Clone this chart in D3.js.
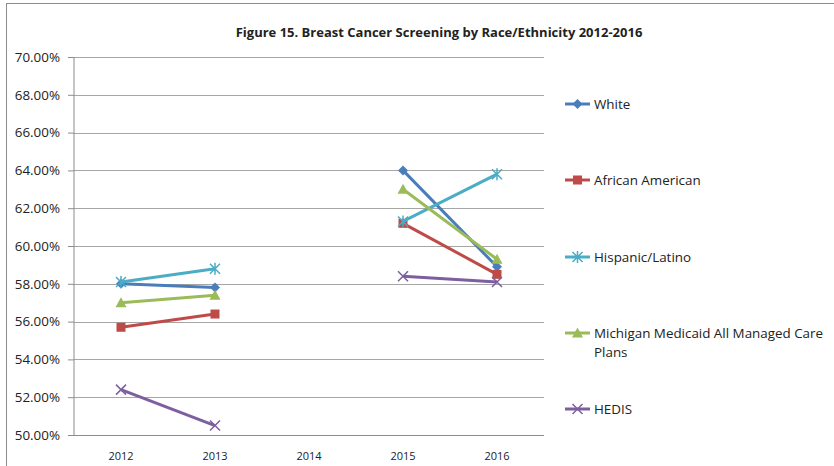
<!DOCTYPE html>
<html><head><meta charset="utf-8">
<script src="https://cdn.jsdelivr.net/npm/d3@7"></script>
<style>body{margin:0;background:#fff}svg{display:block}text{font-family:"Open Sans","Noto Sans",sans-serif;fill:#222}</style>
</head><body><svg id="c" width="834" height="466"></svg>
<script>
const years = ["2012","2013","2014","2015","2016"];
const white = [58.0, 57.8, null, 64.0, 58.9];
const africanAmerican = [55.7, 56.4, null, 61.2, 58.5];
const hispanic = [58.1, 58.8, null, 61.3, 63.8];
const michiganMedicaid = [57.0, 57.4, null, 63.0, 59.3];
const hedis = [52.4, 50.5, null, 58.4, 58.1];
const yTicks = [50,52,54,56,58,60,62,64,66,68,70];
const seriesNames = ["White","African American","Hispanic/Latino","Michigan Medicaid All Managed Care Plans","HEDIS"];
const colors = ["#4A7EBB","#BE4B48","#4BACC6","#9BBB59","#7D5FA0"];
const shapes = ["diamond","square","asterisk","triangle","x"];
const series = [white, africanAmerican, hispanic, michiganMedicaid, hedis].map((v,i)=>({name:seriesNames[i],values:v,color:colors[i],shape:shapes[i]}));

const svg = d3.select("#c");
svg.append("rect").attr("x",6.5).attr("y",3.5).attr("width",900).attr("height",600).attr("fill","none").attr("stroke","#8c8c8c").attr("stroke-width",1);

const L=74, R=544, T=57, B=435;
const x = d3.scaleBand().domain(years).range([L,R]);
const y = d3.scaleLinear().domain([50,70]).range([B,T]);

svg.append("text").attr("x",439).attr("y",37).attr("text-anchor","middle").style("font-weight","bold").style("font-size","13px").text("Figure 15. Breast Cancer Screening by Race/Ethnicity 2012-2016");

// gridlines
svg.append("g").selectAll("line").data(yTicks.filter(t=>t>50)).join("line")
  .attr("x1",L).attr("x2",R).attr("y1",d=>Math.round(y(d))+0.5).attr("y2",d=>Math.round(y(d))+0.5)
  .attr("stroke","#a6a6a6").attr("stroke-width",1);

const ya = svg.append("g").attr("transform",`translate(${L},0)`).call(d3.axisLeft(y).tickValues(yTicks).tickSize(6).tickPadding(8).tickFormat(d=>d.toFixed(2)+"%"));
ya.select(".domain").attr("stroke","#8c8c8c").attr("d",`M0,${T}V${B}`);
ya.selectAll(".tick line").attr("stroke","#8c8c8c");
ya.selectAll("text").style("font-size","13.4px").attr("fill","#222");

const xa = svg.append("g").attr("transform",`translate(0,${B})`).call(d3.axisBottom(x).tickSize(0).tickPadding(17));
xa.select(".domain").attr("stroke","#8c8c8c").attr("d",`M${L},0.5H${R}`);
xa.selectAll("text").style("font-size","11px").attr("fill","#222");

function marker(g, shape, color, cx, cy, s){
  if(shape==="diamond") g.append("path").attr("d",`M${cx},${cy-5}L${cx+5},${cy}L${cx},${cy+5}L${cx-5},${cy}Z`).attr("fill",color);
  else if(shape==="square") g.append("rect").attr("x",cx-4.5).attr("y",cy-4.5).attr("width",9).attr("height",9).attr("fill",color);
  else if(shape==="triangle") g.append("path").attr("d",`M${cx},${cy-5.5}L${cx+5.5},${cy+4.5}L${cx-5.5},${cy+4.5}Z`).attr("fill",color);
  else if(shape==="x") g.append("path").attr("d",`M${cx-5},${cy-5}L${cx+5},${cy+5}M${cx+5},${cy-5}L${cx-5},${cy+5}`).attr("stroke",color).attr("stroke-width",1.5);
  else if(shape==="asterisk") g.append("path").attr("d",`M${cx-5},${cy-5}L${cx+5},${cy+5}M${cx+5},${cy-5}L${cx-5},${cy+5}M${cx},${cy-6}V${cy+6}`).attr("stroke",color).attr("stroke-width",1.5);
}

const line = d3.line().defined(d=>d.v!=null).x(d=>x(d.year)+x.bandwidth()/2).y(d=>y(d.v));
series.forEach(s=>{
  const pts = s.values.map((v,i)=>({year:years[i],v}));
  const g = svg.append("g");
  g.append("path").datum(pts).attr("d",line).attr("fill","none").attr("stroke",s.color).attr("stroke-width",3).attr("stroke-linejoin","round");
  pts.filter(p=>p.v!=null).forEach(p=>marker(g,s.shape,s.color,x(p.year)+x.bandwidth()/2,y(p.v)));
});

// legend
const legY = [104,180,257,333,409];
series.forEach((s,i)=>{
  const g = svg.append("g");
  g.append("line").attr("x1",565).attr("x2",590).attr("y1",legY[i]).attr("y2",legY[i]).attr("stroke",s.color).attr("stroke-width",3);
  marker(g,s.shape,s.color,577.5,legY[i]);
  const t = g.append("text").attr("x",594).attr("y",legY[i]+5).style("font-size","13.4px");
  if(i===3){
    t.append("tspan").attr("x",594).text("Michigan Medicaid All Managed Care");
    t.append("tspan").attr("x",594).attr("dy",19).text("Plans");
  } else t.text(s.name);
});
</script></body></html>
